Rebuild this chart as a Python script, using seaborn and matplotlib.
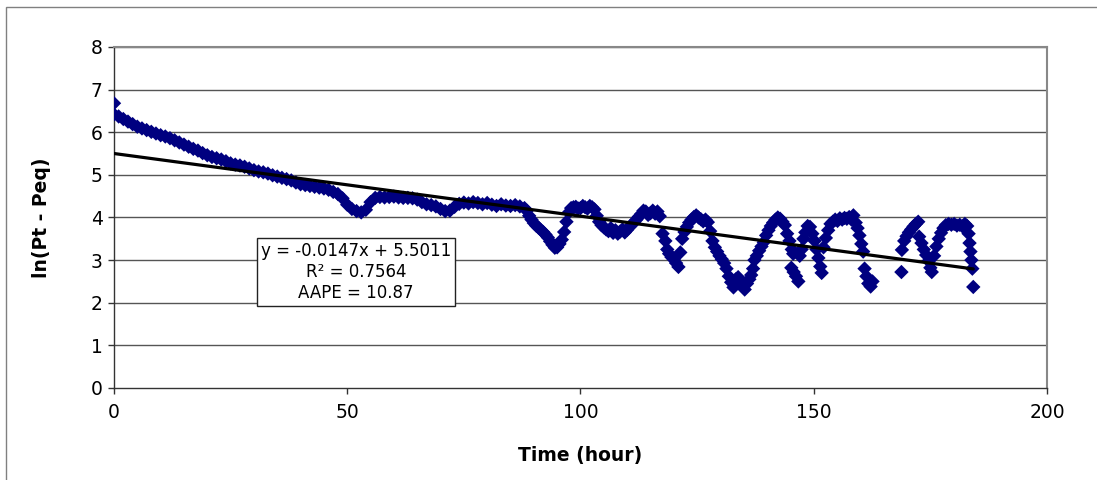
import matplotlib
matplotlib.use("Agg")
import matplotlib.pyplot as plt
import seaborn as sns
import pandas as pd
import numpy as np
from matplotlib.patches import Rectangle

# ---------------- data ----------------
time_smooth = [0, 0, 1, 2, 3, 4, 5, 6, 7, 8, 9, 10, 11, 12, 13, 14, 15, 16, 17, 18, 19,
               20, 21, 22, 23, 24, 25, 26, 27, 28, 29, 30, 31, 32, 33, 34, 35, 36, 37, 38, 39,
               40, 41, 42, 43, 44, 45, 46, 47, 48, 49, 50, 51, 52, 53, 54, 55, 56, 57, 58, 59,
               60, 61, 62, 63, 64, 65, 66, 67, 68, 69, 70, 71, 72, 73, 74, 75, 76, 77, 78, 79,
               80, 81, 82, 83, 84, 85, 86, 87, 88]
ln_smooth = [6.68, 6.42, 6.37, 6.31, 6.25, 6.19, 6.13, 6.09, 6.05, 6.01, 5.97, 5.93, 5.90, 5.86,
             5.81, 5.76, 5.71, 5.66, 5.61, 5.57, 5.51, 5.46, 5.42, 5.39, 5.36, 5.32, 5.27, 5.24,
             5.22, 5.19, 5.15, 5.11, 5.08, 5.06, 5.03, 4.99, 4.96, 4.93, 4.90, 4.87, 4.82, 4.78,
             4.76, 4.74, 4.72, 4.70, 4.68, 4.65, 4.60, 4.55, 4.45, 4.30, 4.20, 4.15, 4.12, 4.18,
             4.36, 4.46, 4.48, 4.47, 4.48, 4.49, 4.47, 4.46, 4.46, 4.45, 4.42, 4.36, 4.31, 4.29,
             4.26, 4.20, 4.15, 4.16, 4.25, 4.32, 4.35, 4.33, 4.36, 4.34, 4.31, 4.34, 4.30, 4.27,
             4.31, 4.28, 4.27, 4.29, 4.26, 4.22]

time_osc = [88.5, 89, 89.5, 90, 90.5, 91, 91.5, 92, 92.5, 93, 93.5, 94, 94.5, 95, 95.5, 96, 96.5,
            97, 97.5, 98, 98.5, 99, 99.5, 100, 100.5, 101, 101.5, 102, 102.5, 103, 103.5, 104,
            104.5, 105, 105.5, 106, 106.5, 107, 107.5, 108, 108.5, 109, 109.5, 110, 110.5, 111,
            111.5, 112, 112.5, 113, 113.5, 114, 114.5, 115, 115.5, 116, 116.5, 117, 117.6, 118.2,
            118.6, 119, 119.5, 120, 120.5, 121, 121.4, 121.8, 122.3, 122.8, 123.3, 123.8, 124.3,
            124.8, 125.3, 125.8, 126.3, 126.8, 127.3, 127.8, 128.3, 128.8, 129.3, 129.8, 130.3,
            130.8, 131.3, 131.8, 132.3, 132.8, 133.3, 133.8, 134.3, 134.8, 135.2, 135.7, 136.2,
            136.6, 137.0, 137.3, 137.8, 138.3, 138.8, 139.3, 139.8, 140.3, 140.8, 141.3, 141.8,
            142.3, 142.8, 143.3, 143.8, 144.3, 144.8, 145.3, 145.6, 145.2, 145.7, 146.2, 146.7,
            147.0, 147.4, 147.8, 148.2, 148.7, 149.2, 149.7, 150.2, 150.6, 151.0, 151.4, 151.7,
            152.1, 152.6, 153.1, 153.6, 154.1, 154.6, 155.1, 155.6, 156.1, 156.6, 157.1, 157.6,
            158.1, 158.5, 159.0, 159.4, 159.8, 160.2, 160.6, 160.9, 161.3, 161.7, 162.2, 162.6,
            168.8, 168.9, 169.4, 169.9, 170.4, 170.9, 171.4, 171.9, 172.4, 172.6, 173.1, 173.6,
            174.1, 174.6, 175.0, 175.3, 175.8, 176.3, 176.8, 177.3, 177.8, 178.3, 178.9, 179.5,
            180.1, 180.7, 181.3, 181.9, 182.4, 182.9, 183.2, 183.4, 183.6, 183.8, 184.0, 184.2]
ln_osc = [4.16, 4.04, 3.95, 3.87, 3.81, 3.76, 3.71, 3.66, 3.60, 3.53, 3.44, 3.36, 3.29, 3.30,
          3.38, 3.48, 3.66, 3.90, 4.12, 4.22, 4.24, 4.25, 4.21, 4.22, 4.27, 4.24, 4.21, 4.27,
          4.24, 4.19, 4.04, 3.90, 3.82, 3.77, 3.72, 3.68, 3.75, 3.64, 3.70, 3.62, 3.67, 3.72,
          3.65, 3.71, 3.78, 3.83, 3.89, 3.95, 4.02, 4.08, 4.16, 4.14, 4.06, 4.10, 4.16, 4.09,
          4.14, 4.03, 3.62, 3.45, 3.25, 3.15, 3.07, 3.02, 2.93, 2.84, 3.18, 3.50, 3.66, 3.78,
          3.88, 3.95, 4.01, 4.05, 4.00, 3.96, 3.91, 3.95, 3.89, 3.68, 3.45, 3.30, 3.20, 3.10,
          3.02, 2.93, 2.80, 2.62, 2.48, 2.36, 2.55, 2.60, 2.50, 2.40, 2.31, 2.45, 2.55, 2.65,
          2.80, 3.00, 3.10, 3.22, 3.32, 3.42, 3.58, 3.70, 3.80, 3.88, 3.95, 4.00, 3.97, 3.90,
          3.82, 3.62, 3.45, 3.25, 3.15, 2.82, 2.72, 2.62, 2.50, 3.10, 3.25, 3.50, 3.65, 3.80,
          3.78, 3.62, 3.45, 3.25, 3.05, 2.85, 2.70, 3.30, 3.52, 3.70, 3.85, 3.90, 3.95, 3.92,
          3.98, 3.95, 3.99, 3.97, 4.01, 3.95, 4.05, 3.88, 3.75, 3.58, 3.38, 3.20, 2.80, 2.62,
          2.45, 2.38, 2.50, 2.72, 3.24, 3.45, 3.56, 3.65, 3.72, 3.79, 3.85, 3.90, 3.55, 3.40,
          3.25, 3.12, 2.98, 2.82, 2.72, 3.10, 3.32, 3.50, 3.64, 3.75, 3.82, 3.85, 3.83, 3.85,
          3.81, 3.83, 3.79, 3.85, 3.80, 3.62, 3.40, 3.20, 3.00, 2.80, 2.37]

trend_slope = -0.0147
trend_intercept = 5.5011
fit_text = ["y = -0.0147x + 5.5011", "R\u00b2 = 0.7564", "AAPE = 10.87"]

x_ticks = [0, 50, 100, 150, 200]
y_ticks = [0, 1, 2, 3, 4, 5, 6, 7, 8]

# ---------------- figure ----------------
sns.set_theme(style="white")
plt.rcParams["font.family"] = ["DejaVu Sans"]
plt.rcParams["text.color"] = "black"
plt.rcParams["axes.labelcolor"] = "black"
plt.rcParams["xtick.color"] = "black"
plt.rcParams["ytick.color"] = "black"

fig = plt.figure(figsize=(10.97, 4.80), dpi=100)
ax = fig.add_axes([0.1039, 0.1917, 0.8505, 0.7104])

df = pd.DataFrame({"Time (hour)": time_smooth + time_osc,
                   "ln": ln_smooth + ln_osc})

sns.scatterplot(data=df, x="Time (hour)", y="ln", ax=ax, marker="D", s=54,
                color="#000080", edgecolor="none", linewidth=0, zorder=3, legend=False)

xs = np.array([min(df["Time (hour)"]), max(df["Time (hour)"])])
sns.lineplot(x=xs, y=trend_slope * xs + trend_intercept, ax=ax, color="black",
             linewidth=2.3, zorder=4, legend=False)

ax.set_xlim(0, 200)
ax.set_ylim(0, 8)
ax.set_xticks(x_ticks)
ax.set_yticks(y_ticks)
ax.set_xticklabels([str(t) for t in x_ticks], fontsize=13.5, color="black")
ax.set_yticklabels([str(t) for t in y_ticks], fontsize=13.5, color="black")

for yv in y_ticks[1:]:
    ax.axhline(yv, color="#555555", linewidth=1.0, zorder=1)

ax.tick_params(axis="both", which="both", direction="out", length=4, width=1,
               color="#333333", pad=4, labelcolor="black",
               bottom=True, left=True, top=False, right=False)
ax.tick_params(axis="x", pad=7)

for side in ["left", "bottom"]:
    ax.spines[side].set_color("#333333")
    ax.spines[side].set_linewidth(1.0)
for side in ["top", "right"]:
    ax.spines[side].set_color("#888888")
    ax.spines[side].set_linewidth(1.5)

ax.set_xlabel("Time (hour)", fontsize=13.5, fontweight="bold", labelpad=17, color="black")
ax.set_ylabel("ln(Pt - Peq)", fontsize=13.5, fontweight="bold", labelpad=29, color="black")

ax.text(0.2594, 0.340, "\n".join(fit_text), transform=ax.transAxes,
        ha="center", va="center", fontsize=12, linespacing=1.22, zorder=5, color="black",
        bbox=dict(boxstyle="square,pad=0.25", facecolor="white", edgecolor="#222222",
                  linewidth=1.0))

# outer chart-area border (left and top visible in reference)
fig.patches.append(Rectangle((6 / 1097, -0.02), 1.2, 1 - 7 / 480 + 0.02,
                             transform=fig.transFigure, fill=False,
                             edgecolor="#808080", linewidth=1.0))

fig.savefig("out.png", dpi=100, facecolor="white")
